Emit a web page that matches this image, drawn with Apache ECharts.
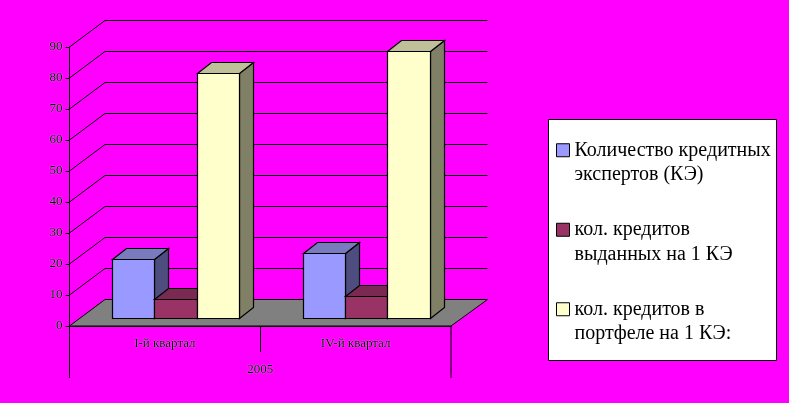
<!DOCTYPE html>
<html><head><meta charset="utf-8">
<style>html,body{margin:0;padding:0;background:#f0f}#c{width:789px;height:403px}</style>
<script src="https://cdn.jsdelivr.net/npm/echarts@6/dist/echarts.min.js"></script>
</head><body><div id="c"></div>
<script>
const categories = ['I-й квартал', 'IV-й квартал'];
const groupLabel = '2005';
const experts = [19, 21];
const issued = [6, 7];
const portfolio = [79, 86];
const seriesNames = ['Количество кредитных\nэкспертов (КЭ)', 'кол. кредитов\nвыданных на 1 КЭ', 'кол. кредитов в\nпортфеле на 1 КЭ:'];
const yTicks = [0, 10, 20, 30, 40, 50, 60, 70, 80, 90];

const chart = echarts.init(document.getElementById('c'), null, {renderer: 'canvas'});
const L = 69.5, R = 338, T = 47, B = 77;  // grid
const wallDX = 35.5, wallDY = 26.5;
const barOffX = 11, barOffY = 7.7, barDX = 14, barDY = 11;
const lineS = {stroke: '#000', lineWidth: 1};
const snap = v => Math.round(v - 0.5) + 0.5;

const palettes = [
  {front: '#9999FF', top: '#7A7ABF', side: '#4D4D80'},
  {front: '#993366', top: '#7A2952', side: '#4D1A33'},
  {front: '#FFFFCC', top: '#BFBF99', side: '#808066'}
];
const poly = (pts, fill) => ({type: 'polygon', shape: {points: pts}, style: {fill, stroke: '#000', lineWidth: 1.2}});

function barSeries(name, values, idx) {
  return {
    type: 'custom', name, coordinateSystem: 'cartesian2d', z: 5 + (idx === 2 ? 1 : 0),
    itemStyle: {color: palettes[idx].front, borderColor: '#000', borderWidth: 1},
    data: values.map((v, i) => [i, v]),
    renderItem(params, api) {
      const base = api.coord([api.value(0), 0]);
      const top = api.coord([api.value(0), api.value(1)]);
      const band = api.size([1, 0])[0];
      const w = band * 0.2215;
      const x0 = snap(base[0] + barOffX + (idx - 1.5) * w);
      const x1 = snap(base[0] + barOffX + (idx - 0.5) * w);
      const y0 = snap(base[1] - barOffY), y1 = snap(top[1] - barOffY);
      const p = palettes[idx];
      return {type: 'group', children: [
        poly([[x1, y0], [x1 + barDX, y0 - barDY], [x1 + barDX, y1 - barDY], [x1, y1]], p.side),
        poly([[x0, y1], [x0 + barDX, y1 - barDY], [x1 + barDX, y1 - barDY], [x1, y1]], p.top),
        poly([[x0, y0], [x1, y0], [x1, y1], [x0, y1]], p.front)
      ]};
    }
  };
}

const floorAndWalls = {
  type: 'custom', coordinateSystem: 'cartesian2d', silent: true, z: 1, legendHoverLink: false,
  data: yTicks.map(v => [0, v]),
  renderItem(params, api) {
    const v = api.value(1);
    const a = api.coord([0, v]);
    const band = api.size([1, 0])[0];
    const rightX = a[0] - band / 2 + band * categories.length;
    const lx = a[0] - band / 2;
    const children = [];
    if (v === 0) {
      children.push({type: 'polygon', shape: {points: [[lx, a[1]], [lx + wallDX, a[1] - wallDY], [rightX + wallDX + 1, a[1] - wallDY], [rightX, a[1]]]},
        style: {fill: '#808080', stroke: '#000', lineWidth: 1}});
    } else {
      children.push({type: 'polyline', shape: {points: [[lx, a[1]], [lx + wallDX, a[1] - wallDY], [rightX + wallDX + 1, a[1] - wallDY]]},
        style: {fill: null, stroke: '#000', lineWidth: 1}});
    }
    return {type: 'group', children};
  }
};

const multiLevelTicks = {
  type: 'custom', coordinateSystem: 'cartesian2d', silent: true, z: 2,
  data: [[0, 0]],
  renderItem(params, api) {
    const a = api.coord([0, 0]);
    const band = api.size([1, 0])[0];
    const lx = a[0] - band / 2;
    const seg = (x, y2) => ({type: 'line', shape: {x1: x, y1: a[1], x2: x, y2}, style: lineS});
    return {type: 'group', children: [
      seg(lx, a[1] + 52), seg(snap(lx + band), a[1] + 26), seg(lx + 2 * band, a[1] + 52),
      {type: 'text', style: {text: groupLabel, x: lx + band, y: a[1] + 43.5, align: 'center', verticalAlign: 'middle',
        font: '13px "Liberation Serif"', fill: '#000', textShadowColor: '#fff', textShadowBlur: 1}}
    ]};
  }
};

chart.setOption({
  animation: false,
  backgroundColor: '#FF00FF',
  textStyle: {fontFamily: '"Liberation Serif"'},
  grid: {left: L, right: R, top: T, bottom: B, containLabel: false},
  xAxis: {type: 'category', data: categories, axisTick: {show: false}, splitLine: {show: false},
    axisLine: {show: true, lineStyle: {color: '#000', width: 1}},
    axisLabel: {color: '#000', fontSize: 13, fontFamily: '"Liberation Serif"', margin: 11, textShadowColor: '#fff', textShadowBlur: 1}},
  yAxis: {type: 'value', min: 0, max: 90, interval: 10, splitLine: {show: false},
    axisLine: {show: true, lineStyle: {color: '#000', width: 1}},
    axisTick: {show: true, length: 4, lineStyle: {color: '#000'}},
    axisLabel: {color: '#000', fontSize: 13, fontFamily: '"Liberation Serif"', margin: 7, padding: [3, 0, 0, 0], textShadowColor: '#fff', textShadowBlur: 1}},
  graphic: [{type: 'rect', z: -1, shape: {x: 548.5, y: 119.5, width: 228, height: 241},
    style: {fill: '#fff', stroke: '#000', lineWidth: 1}, silent: true}],
  legend: {
    orient: 'vertical', left: 556, top: 113.5, selectedMode: false, z: 10,
    padding: 0, itemWidth: 13, itemHeight: 13, itemGap: 6,
    textStyle: {fontSize: 20, lineHeight: 24.5, color: '#000', fontFamily: '"Liberation Serif"'},
    formatter: name => ' \n' + name,
    data: seriesNames.map((name, i) => ({name, icon: 'rect', itemStyle: {color: palettes[i].front, borderColor: '#000', borderWidth: 1}}))
  },
  series: [floorAndWalls, multiLevelTicks, barSeries(seriesNames[0], experts, 0), barSeries(seriesNames[1], issued, 1), barSeries(seriesNames[2], portfolio, 2)]
});
</script></body></html>
